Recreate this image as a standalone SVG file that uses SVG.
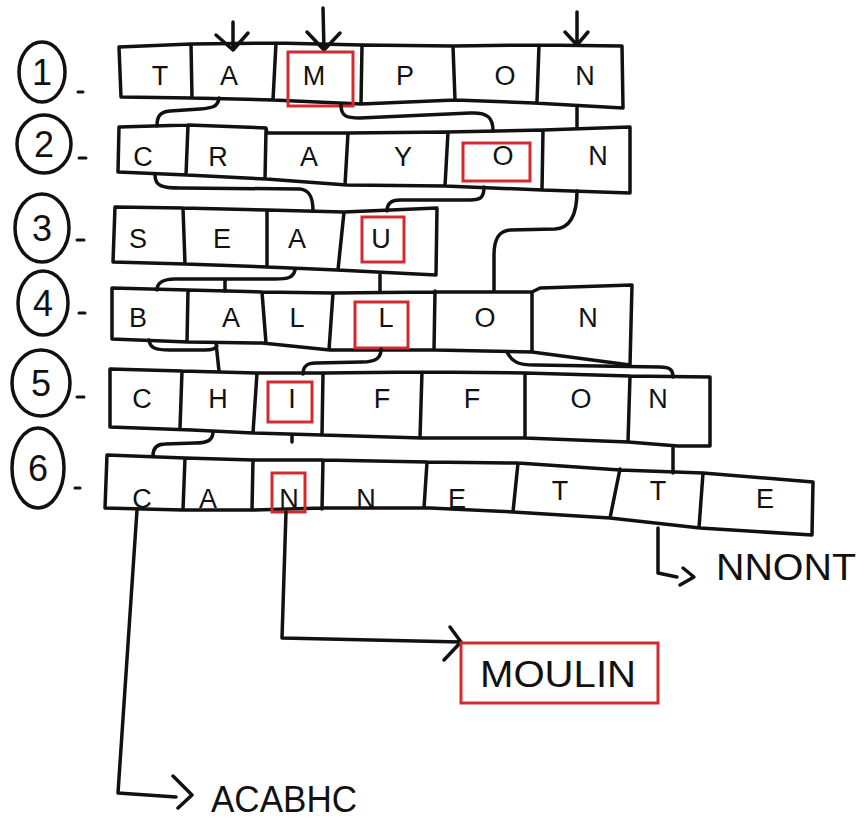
<svg xmlns="http://www.w3.org/2000/svg" width="860" height="822" viewBox="0 0 860 822">
<style>
.ln{fill:none;stroke:#111;stroke-width:3.5;stroke-linejoin:round;stroke-linecap:round}
.red{fill:none;stroke:#d42a2f;stroke-width:3}
.lt{font-family:"Liberation Sans",Arial,sans-serif;font-size:27px;fill:#111;text-anchor:middle}
.dg{font-family:"Liberation Sans",Arial,sans-serif;font-size:36px;fill:#111;text-anchor:middle}
.big{font-family:"Liberation Sans",Arial,sans-serif;font-size:37px;fill:#111}
.dash{stroke:#111;stroke-width:3;stroke-linecap:round}
</style>
<rect width="860" height="822" fill="#fff"/>

<g id="labels">
  <g id="n1"><ellipse class="ln" cx="42" cy="72" rx="23" ry="30"/><text class="dg" x="42" y="85">1</text><line class="dash" x1="78" y1="92" x2="83" y2="92"/></g>
  <g id="n2"><ellipse class="ln" cx="44" cy="144" rx="27" ry="29"/><text class="dg" x="44" y="157">2</text><line class="dash" x1="79" y1="158" x2="86" y2="158"/></g>
  <g id="n3"><ellipse class="ln" cx="42" cy="228" rx="27" ry="34"/><text class="dg" x="42" y="241">3</text><line class="dash" x1="77" y1="240" x2="84" y2="240"/></g>
  <g id="n4"><ellipse class="ln" cx="43" cy="303" rx="25" ry="32"/><text class="dg" x="43" y="316">4</text><line class="dash" x1="79" y1="313" x2="85" y2="313"/></g>
  <g id="n5"><ellipse class="ln" cx="41" cy="383" rx="29" ry="33"/><text class="dg" x="41" y="396">5</text><line class="dash" x1="77" y1="397" x2="84" y2="397"/></g>
  <g id="n6"><ellipse class="ln" cx="38" cy="468" rx="26" ry="40"/><text class="dg" x="38" y="481">6</text><line class="dash" x1="75" y1="488" x2="80" y2="488"/></g>
</g>

<g id="top-arrows">
  <path class="ln" d="M233,22 L233,50 M216,35 L233,50 L248,33"/>
  <path class="ln" d="M323,8 L324,50 M307,32 L324,50 L340,33"/>
  <path class="ln" d="M577,12 L577,45 M565,32 L577,45 L588,32"/>
</g>

<g id="row1">
  <path class="ln" d="M119,47 L191,44 L276,43 L362,45 L453,46 L539,45 L622,46 L623,108 L534,103 L455,100 L361,104 L273,100 L192,98 L121,97 Z M191,44 L192,98 M276,43 L273,100 M362,45 L361,104 M453,46 L455,100 M539,45 L537,102"/>
  <rect class="red" x="288" y="52" width="65" height="54"/>
  <text class="lt" x="160" y="85">T</text><text class="lt" x="229" y="85">A</text><text class="lt" x="314" y="85">M</text><text class="lt" x="405" y="85">P</text><text class="lt" x="505" y="85">O</text><text class="lt" x="585" y="85">N</text>
</g>

<g id="row2">
  <path class="ln" d="M119,127 L188,125 L266,128 L267,133 L348,133 L447,132 L543,130 L630,127 L630,193 L542,190 L445,186 L347,185 L266,179 L187,175 L118,172 Z M188,125 L186,175 M266,130 L265,179 M348,133 L345,185 M448,132 L445,186 M543,130 L542,190"/>
  <rect class="red" x="463" y="143" width="67" height="38"/>
  <text class="lt" x="143" y="166">C</text><text class="lt" x="218" y="166">R</text><text class="lt" x="309" y="166">A</text><text class="lt" x="403" y="166">Y</text><text class="lt" x="503" y="165">O</text><text class="lt" x="598" y="165">N</text>
</g>

<g id="row3">
  <path class="ln" d="M115,207 L183,208 L267,210 L344,212 L437,208 L436,275 L337,270 L267,267 L185,264 L113,262 Z M183,208 L185,264 M267,210 L267,267 M344,212 L338,270"/>
  <rect class="red" x="362" y="217" width="42" height="45"/>
  <text class="lt" x="138" y="248">S</text><text class="lt" x="222" y="248">E</text><text class="lt" x="297" y="248">A</text><text class="lt" x="381" y="248">U</text>
</g>

<g id="row4">
  <path class="ln" d="M112,288 L188,290 L262,292 L333,293 L435,292 L532,292 L540,288 L632,285 L630,365 L532,352 L435,350 L330,350 L262,343 L188,342 L112,339 Z M188,290 L187,342 M262,292 L266,343 M333,293 L329,350 M435,291 L434,350 M532,292 L532,352"/>
  <rect class="red" x="355" y="302" width="53" height="46"/>
  <text class="lt" x="138" y="327">B</text><text class="lt" x="231" y="327">A</text><text class="lt" x="297" y="327">L</text><text class="lt" x="386" y="327">L</text><text class="lt" x="485" y="327">O</text><text class="lt" x="588" y="327">N</text>
</g>

<g id="row5">
  <path class="ln" d="M110,369 L182,371 L257,373 L323,373 L422,372 L525,373 L630,376 L710,377 L710,446 L678,446 L628,442 L525,438 L422,438 L322,435 L253,433 L192,430 L110,427 Z M182,371 L180,428 M257,373 L253,433 M323,373 L322,435 M422,372 L420,438 M525,373 L525,438 M630,376 L628,442"/>
  <rect class="red" x="268" y="382" width="44" height="40"/>
  <text class="lt" x="142" y="408">C</text><text class="lt" x="218" y="408">H</text><text class="lt" x="292" y="408">I</text><text class="lt" x="382" y="408">F</text><text class="lt" x="472" y="408">F</text><text class="lt" x="581" y="408">O</text><text class="lt" x="658" y="408">N</text>
</g>

<g id="row6">
  <path class="ln" d="M107,455 L185,458 L253,460 L323,460 L427,462 L518,463 L620,470 L703,473 L813,482 L812,535 L700,528 L610,518 L513,512 L430,508 L323,508 L253,510 L183,510 L105,508 Z M185,458 L183,510 M253,460 L252,510 M323,460 L322,509 M427,462 L424,508 M518,463 L513,512 M620,469 L610,518 M703,473 L699,528"/>
  <rect class="red" x="272" y="473" width="33" height="39"/>
  <text class="lt" x="142" y="508">C</text><text class="lt" x="208" y="508">A</text><text class="lt" x="289" y="508">N</text><text class="lt" x="366" y="508">N</text><text class="lt" x="457" y="508">E</text><text class="lt" x="560" y="500">T</text><text class="lt" x="658" y="500">T</text><text class="lt" x="765" y="508">E</text>
</g>

<g id="connectors">
  <path class="ln" d="M219,98 C218,107 212,108 200,109 L170,111 C160,112 157,116 157,126"/>
  <path class="ln" d="M341,105 C341,116 346,118 360,118 L470,113 C488,112 493,118 493,131"/>
  <path class="ln" d="M577,106 L577,128"/>
  <path class="ln" d="M155,175 C155,186 162,188 180,188 L300,189 C310,190 313,198 313,211"/>
  <path class="ln" d="M484,187 C484,198 480,200 470,200 L400,200 C390,200 387,205 387,211"/>
  <path class="ln" d="M577,191 C577,212 572,228 555,229 L510,230 C498,231 494,240 494,255 L494,291"/>
  <path class="ln" d="M295,270 C293,278 288,279 275,279 L175,279 C162,279 157,284 157,290 M225,279 L225,291"/>
  <path class="ln" d="M380,275 L380,292"/>
  <path class="ln" d="M149,340 C150,348 155,350 170,350 L205,350 C212,350 216,348 217,346 M216,343 L219,371"/>
  <path class="ln" d="M381,349 C381,358 376,362 362,362 L316,363 C306,363 303,367 303,374"/>
  <path class="ln" d="M507,352 C512,362 518,365 535,365 L660,367 C670,367 673,370 673,377"/>
  <path class="ln" d="M213,432 C213,441 206,443 195,443 L165,444 C157,444 153,448 153,456"/>
  <path class="ln" d="M292,435 L292,442"/>
  <path class="ln" d="M673,448 L673,473"/>
  <path class="ln" d="M137,510 L118,793 L176,797 M173,776 L192,795 L178,808"/>
  <path class="ln" d="M286,512 L282,638 L461,642 M450,627 L461,642 L444,660"/>
  <path class="ln" d="M658,528 L658,573 L677,577 M683,568 L694,577 L680,585"/>
</g>

<g id="results">
  <g id="acabhc"><text class="big" x="211" y="812" font-size="34" textLength="146" lengthAdjust="spacingAndGlyphs">ACABHC</text></g>
  <g id="moulin"><rect class="red" x="461" y="643" width="197" height="60"/><text class="big" x="480" y="687" textLength="156" lengthAdjust="spacingAndGlyphs">MOULIN</text></g>
  <g id="nnont"><text class="big" x="716" y="580" textLength="140" lengthAdjust="spacingAndGlyphs">NNONT</text></g>
</g>
</svg>
